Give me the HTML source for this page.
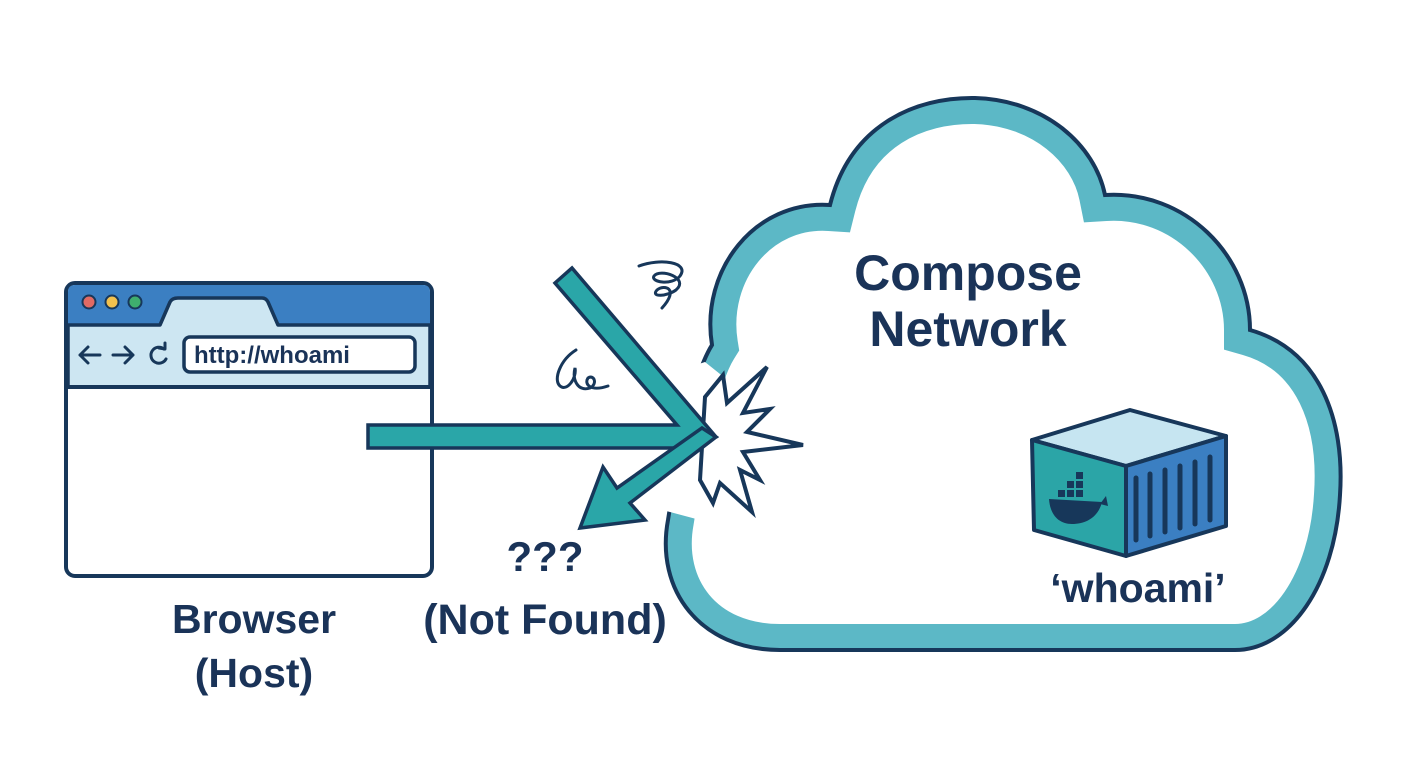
<!DOCTYPE html>
<html><head><meta charset="utf-8"><style>
html,body{margin:0;padding:0;background:#fff;}
svg{display:block;}
text{font-family:"Liberation Sans",sans-serif;font-weight:bold;fill:#1a3358;}
</style></head><body>
<svg width="1408" height="768" viewBox="0 0 1408 768">
<defs>
<clipPath id="cc"><path d="M780 650 C700 650 655 590 668 520 C676 470 690 380 712 345 C700 270 755 200 830 205 C850 125 915 97 975 98 C1045 100 1095 145 1105 195 C1185 190 1250 255 1250 330 C1320 350 1345 420 1340 495 C1335 585 1290 650 1235 650 Z"/></clipPath>
</defs>
<path d="M780 650 C700 650 655 590 668 520 C676 470 690 380 712 345 C700 270 755 200 830 205 C850 125 915 97 975 98 C1045 100 1095 145 1105 195 C1185 190 1250 255 1250 330 C1320 350 1345 420 1340 495 C1335 585 1290 650 1235 650 Z" fill="#fff"/>
<g clip-path="url(#cc)">
<path d="M780 650 C700 650 655 590 668 520 C676 470 690 380 712 345 C700 270 755 200 830 205 C850 125 915 97 975 98 C1045 100 1095 145 1105 195 C1185 190 1250 255 1250 330 C1320 350 1345 420 1340 495 C1335 585 1290 650 1235 650 Z" fill="none" stroke="#5cb8c6" stroke-width="52"/>
</g>
<path d="M780 650 C700 650 655 590 668 520 C676 470 690 380 712 345 C700 270 755 200 830 205 C850 125 915 97 975 98 C1045 100 1095 145 1105 195 C1185 190 1250 255 1250 330 C1320 350 1345 420 1340 495 C1335 585 1290 650 1235 650 Z" fill="none" stroke="#17375a" stroke-width="4"/>
<polygon points="674,372 705,362 765,410 770,500 700,520 655,508" fill="#fff"/>
<!-- explosion -->
<polygon points="705,397 723,375 727,403 767,367 743,413 770,409 747,432 803,445 743,452 760,480 740,470 752,512 720,483 713,503 700,480" fill="#fff" stroke="#17375a" stroke-width="4" stroke-linejoin="miter"/>
<text x="968" y="290" font-size="50" text-anchor="middle">Compose</text>
<text x="968" y="346" font-size="50" text-anchor="middle">Network</text>
<!-- container -->
<polygon points="1032,440 1130,410 1226,436 1126,466" fill="#c6e5f1" stroke="#17375a" stroke-width="4" stroke-linejoin="round"/>
<polygon points="1032,440 1126,466 1126,556 1034,530" fill="#2ba5a7" stroke="#17375a" stroke-width="4" stroke-linejoin="round"/>
<polygon points="1126,466 1226,436 1226,526 1126,556" fill="#3b7fc2" stroke="#17375a" stroke-width="4" stroke-linejoin="round"/>
<g stroke="#17375a" stroke-width="5" stroke-linecap="round">
<line x1="1136" y1="478" x2="1136" y2="540"/><line x1="1150" y1="474" x2="1150" y2="536"/>
<line x1="1165" y1="470" x2="1165" y2="532"/><line x1="1180" y1="466" x2="1180" y2="528"/>
<line x1="1195" y1="462" x2="1195" y2="524"/><line x1="1210" y1="457" x2="1210" y2="520"/>
</g>
<path d="M1049 499 L1102 502 C1098 518 1085 524 1072 524 C1058 524 1050 514 1049 499 Z" fill="#17375a"/>
<g fill="#17375a"><rect x="1058" y="490" width="7" height="7"/><rect x="1067" y="490" width="7" height="7"/><rect x="1076" y="490" width="7" height="7"/><rect x="1067" y="481" width="7" height="7"/><rect x="1076" y="481" width="7" height="7"/><rect x="1076" y="472" width="7" height="7"/><path d="M1100 504 L1106 496 L1108 506 Z"/></g>
<text x="1138" y="602" font-size="41" text-anchor="middle">‘whoami’</text>
<!-- browser -->
<rect x="66" y="283" width="366" height="293" rx="9" fill="#fff" stroke="#17375a" stroke-width="4"/>
<path d="M68 325 L68 292 Q68 285 75 285 L423 285 Q430 285 430 292 L430 325 Z" fill="#3b7fc2"/>
<path d="M68 325 L160 325 L170 302 Q172 298 178 298 L262 298 Q266 298 268 302 L278 325 L430 325 L430 387 L68 387 Z" fill="#cde6f2" stroke="#17375a" stroke-width="3.5" stroke-linejoin="round"/>
<line x1="66" y1="387" x2="432" y2="387" stroke="#17375a" stroke-width="4"/>
<circle cx="89" cy="302" r="6.5" fill="#e06a64" stroke="#17375a" stroke-width="2"/>
<circle cx="112" cy="302" r="6.5" fill="#f2c14e" stroke="#17375a" stroke-width="2"/>
<circle cx="135" cy="302" r="6.5" fill="#3fae6e" stroke="#17375a" stroke-width="2"/>
<g stroke="#17375a" stroke-width="3" fill="none" stroke-linecap="round" stroke-linejoin="round">
<path d="M100 355 H80 M88 347 L80 355 L88 363"/><path d="M113 355 H133 M125 347 L133 355 L125 363"/>
<path d="M164 349 A8 8 0 1 0 166 359"/><path d="M159 348 L165 349 L165 343"/>
</g>
<rect x="184" y="337" width="231" height="35" rx="6" fill="#fff" stroke="#17375a" stroke-width="3.5"/>
<text x="194" y="363" font-size="24">http://whoami</text>
<text x="254" y="633" font-size="41" text-anchor="middle">Browser</text>
<text x="254" y="687" font-size="41" text-anchor="middle">(Host)</text>
<!-- arrows -->
<polygon points="368,425 677,425 555,283 572,268 716,437 690,448 368,448" fill="#2aa6a8" stroke="#17375a" stroke-width="3.5" stroke-linejoin="miter"/>
<polygon points="716,437 630,503 645,520 580,528 603,467 617,488 702,428" fill="#2aa6a8" stroke="#17375a" stroke-width="3.5" stroke-linejoin="miter"/>
<g stroke="#17375a" stroke-width="3" fill="none" stroke-linecap="round">
<path d="M639 266 C660 258 690 262 680 276 C672 286 650 282 654 276 C660 268 690 278 676 290 C668 296 650 298 657 290 C664 284 680 288 662 308"/>
<path d="M576 350 C560 360 553 380 560 386 C567 392 577 378 575 368 C572 380 578 392 590 388 C598 384 594 374 588 378 C584 384 590 392 608 386"/>
</g>
<text x="545" y="571" font-size="42" text-anchor="middle">???</text>
<text x="545" y="634" font-size="43" text-anchor="middle">(Not Found)</text>
</svg>
</body></html>
